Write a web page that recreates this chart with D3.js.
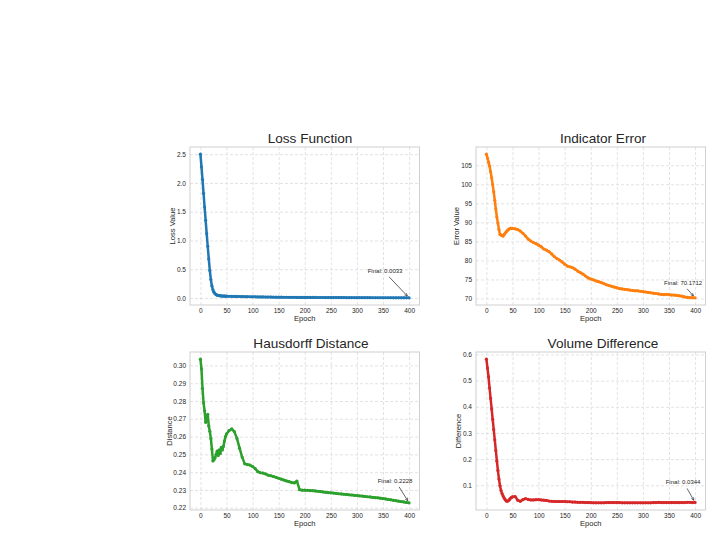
<!DOCTYPE html>
<meta charset="utf-8">
<script src="https://d3js.org/d3.v7.min.js"></script>
<html>
<head>
  <title>Training curves</title>
  <style>
    body { margin: 0; background: #fff; }
    text { font-family: "Liberation Sans", Arial, sans-serif; fill: #262626; }
  </style>
</head>
<body>
<div id="my_dataviz"></div>

<script>
var epochs = [0,2,4,6,8,10,12,14,16,18,20,22,24,26,28,30,32,34,36,38,40,42,44,46,48,50,
  55,60,65,70,75,80,85,90,95,100,105,110,115,120,125,130,135,140,145,150,155,160,165,170,
  175,180,185,190,195,200,205,210,215,220,225,230,235,240,245,250,255,260,265,270,
  275,280,285,290,295,300,305,310,315,320,325,330,335,340,345,350,355,360,365,370,
  375,380,385,390,395,400];

var lossValues = [2.50,2.28,2.06,1.82,1.58,1.35,1.12,0.90,0.68,0.48,0.32,0.21,0.14,0.10,0.075,0.060,0.050,0.045,0.041,0.038,0.036,0.035,0.034,0.033,0.032,0.031,
  0.030,0.029,0.028,0.027,0.026,0.025,0.024,0.023,0.022,0.021,
  0.020,0.019,0.019,0.018,0.017,0.016,0.016,0.015,0.015,0.014,
  0.014,0.013,0.013,0.012,0.012,0.012,0.011,0.011,0.011,0.010,
  0.010,0.0098,0.0095,0.0093,0.0090,0.0088,0.0085,0.0083,0.0080,0.0078,
  0.0076,0.0074,0.0072,0.0070,0.0068,0.0066,0.0064,0.0062,0.0060,0.0058,
  0.0057,0.0055,0.0054,0.0052,0.0051,0.0049,0.0048,0.0047,0.0045,0.0044,
  0.0043,0.0042,0.0041,0.0040,0.0039,0.0038,0.0036,0.0035,0.0034,0.0033];

var errorValues = [107.9,106.9,105.8,104.8,103.3,101.7,99.9,98.0,95.8,93.5,91.4,89.8,88.1,86.8,86.7,86.5,86.4,86.8,87.2,87.5,87.8,88.1,88.3,88.4,88.4,88.4,
  88.3,88.1,87.7,87.1,86.4,85.6,85.1,84.7,84.4,84.0,
  83.6,83.0,82.7,82.3,81.7,81.0,80.5,80.1,79.6,79.0,
  78.5,78.3,78.1,77.7,77.2,76.8,76.4,75.9,75.4,75.1,
  74.9,74.6,74.4,74.2,73.9,73.6,73.4,73.2,73.0,72.8,
  72.6,72.5,72.4,72.3,72.2,72.1,72.0,72.0,71.9,71.8,
  71.7,71.6,71.5,71.4,71.3,71.2,71.1,71.0,71.1,71.0,
  70.9,70.9,70.8,70.7,70.6,70.4,70.3,70.2,70.2,70.1712];

var hausdorffValues = [0.3035,0.2980,0.2870,0.2790,0.2745,0.2680,0.2705,0.2725,0.2660,0.2630,0.2590,0.2530,0.2463,0.2470,0.2481,0.2500,0.2519,0.2494,0.2525,0.2505,0.2540,0.2525,0.2545,0.2575,0.2600,0.2615,
  0.2634,0.2643,0.2628,0.2590,0.2535,0.2485,0.2447,0.2443,0.2440,0.2432,
  0.2420,0.2403,0.2397,0.2395,0.2390,0.2383,0.2380,0.2376,0.2371,0.2366,
  0.2361,0.2356,0.2351,0.2347,0.2342,0.2340,0.2350,0.2302,0.2299,0.2299,
  0.2298,0.2297,0.2296,0.2295,0.2293,0.2291,0.2289,0.2287,0.2285,0.2284,
  0.2283,0.2281,0.2279,0.2278,0.2276,0.2275,0.2273,0.2272,0.2270,0.2269,
  0.2267,0.2266,0.2264,0.2262,0.2261,0.2259,0.2257,0.2256,0.2254,0.2252,
  0.2250,0.2247,0.2245,0.2242,0.2240,0.2237,0.2235,0.2233,0.2230,0.2228];

var volumeValues = [0.582,0.548,0.515,0.472,0.432,0.392,0.352,0.313,0.274,0.233,0.193,0.157,0.124,0.098,0.080,0.068,0.059,0.051,0.045,0.040,0.039,0.041,0.045,0.050,0.054,0.056,
  0.057,0.043,0.039,0.045,0.049,0.046,0.044,0.044,0.045,0.045,
  0.044,0.043,0.042,0.040,0.039,0.038,0.038,0.038,0.038,0.038,
  0.037,0.037,0.036,0.036,0.035,0.035,0.035,0.034,0.034,0.034,
  0.033,0.033,0.033,0.033,0.033,0.034,0.034,0.034,0.034,0.034,
  0.034,0.033,0.033,0.033,0.033,0.033,0.033,0.033,0.033,0.033,
  0.033,0.033,0.033,0.034,0.034,0.035,0.034,0.034,0.034,0.034,
  0.034,0.034,0.034,0.034,0.034,0.034,0.035,0.035,0.034,0.0344];

var xTicks = [0,50,100,150,200,250,300,350,400];
var lossTicks = [0,0.5,1.0,1.5,2.0,2.5];
var errorTicks = [70,75,80,85,90,95,100,105];
var hausdorffTicks = [0.22,0.23,0.24,0.25,0.26,0.27,0.28,0.29,0.30];
var volumeTicks = [0.1,0.2,0.3,0.4,0.5,0.6];

// one entry per subplot
var panels = [
  {title: "Loss Function", ylabel: "Loss Value", values: lossValues, ticks: lossTicks, fmt: ".1f",
   color: "#1f77b4", left: 190, top: 147, titleX: 310, note: [-24, -25]},
  {title: "Indicator Error", ylabel: "Error Value", values: errorValues, ticks: errorTicks, fmt: "d",
   color: "#ff7f0e", left: 476, top: 147, titleX: 603, note: [-12, -13]},
  {title: "Hausdorff Distance", ylabel: "Distance", values: hausdorffValues, ticks: hausdorffTicks, fmt: ".2f",
   color: "#2ca02c", left: 190, top: 352, titleX: 311, note: [-14, -20]},
  {title: "Volume Difference", ylabel: "Difference", values: volumeValues, ticks: volumeTicks, fmt: ".1f",
   color: "#d62728", left: 476, top: 352, titleX: 603, note: [-12, -18]}
];

var W = 229.5, H = 158;

var svg = d3.select("#my_dataviz")
  .append("svg")
    .attr("width", 712)
    .attr("height", 535);

svg.append("defs").append("marker")
    .attr("id", "arrow")
    .attr("viewBox", "0 0 10 10")
    .attr("refX", 9).attr("refY", 5)
    .attr("markerWidth", 5).attr("markerHeight", 5)
    .attr("orient", "auto")
  .append("path")
    .attr("d", "M1,1 L9,5 L1,9")
    .attr("fill", "none")
    .attr("stroke", "#222")
    .attr("stroke-width", 1.5);

panels.forEach(function(p) {
  var g = svg.append("g")
    .attr("transform", "translate(" + p.left + "," + p.top + ")");

  var x = d3.scaleLinear().domain([-20, 420]).range([0, W]);
  var ext = d3.extent(p.values);
  var pad = (ext[1] - ext[0]) * 0.05;
  var y = d3.scaleLinear().domain([ext[0] - pad, ext[1] + pad]).range([H, 0]);

  // grid
  g.append("g")
    .attr("transform", "translate(0," + H + ")")
    .call(d3.axisBottom(x).tickValues(xTicks).tickSize(-H).tickFormat(""))
    .call(function(s) { s.select(".domain").remove(); })
    .selectAll("line")
      .attr("stroke", "#dcdcdc").attr("stroke-dasharray", "3,2").attr("stroke-width", 0.8);
  g.append("g")
    .call(d3.axisLeft(y).tickValues(p.ticks).tickSize(-W).tickFormat(""))
    .call(function(s) { s.select(".domain").remove(); })
    .selectAll("line")
      .attr("stroke", "#dcdcdc").attr("stroke-dasharray", "3,2").attr("stroke-width", 0.8);

  // frame
  g.append("rect")
    .attr("width", W).attr("height", H)
    .attr("fill", "none").attr("stroke", "#d0d0d0").attr("stroke-width", 1);

  // tick labels
  var xa = g.append("g")
    .attr("transform", "translate(0," + H + ")")
    .call(d3.axisBottom(x).tickValues(xTicks).tickSize(0).tickPadding(3).tickFormat(d3.format("d")));
  xa.select(".domain").remove();
  xa.selectAll("text").style("font-size", "6.5px").attr("fill", "#3a3a3a");

  var ya = g.append("g")
    .call(d3.axisLeft(y).tickValues(p.ticks).tickSize(0).tickPadding(4).tickFormat(d3.format(p.fmt)));
  ya.select(".domain").remove();
  ya.selectAll("text").style("font-size", "6.5px").attr("fill", "#3a3a3a");

  var maxW = 0;
  ya.selectAll("text").each(function() { maxW = Math.max(maxW, this.getComputedTextLength()); });

  // axis labels
  g.append("text")
    .attr("x", W / 2).attr("y", H + 15.5)
    .attr("text-anchor", "middle")
    .style("font-size", "7.6px")
    .text("Epoch");
  g.append("text")
    .attr("transform", "translate(" + (-4 - maxW - 4.5) + "," + (H / 2) + ")rotate(-90)")
    .attr("dy", "0.35em")
    .attr("text-anchor", "middle")
    .style("font-size", "7.6px")
    .text(p.ylabel);

  // title
  svg.append("text")
    .attr("x", p.titleX).attr("y", p.top - 4)
    .attr("text-anchor", "middle")
    .style("font-size", "13.6px")
    .text(p.title);

  // line + markers
  var pts = epochs.map(function(e, i) { return [e, p.values[i]]; });
  g.append("path")
    .datum(pts)
    .attr("fill", "none")
    .attr("stroke", p.color)
    .attr("stroke-width", 2.5)
    .attr("stroke-linejoin", "round")
    .attr("d", d3.line().x(function(d) { return x(d[0]); }).y(function(d) { return y(d[1]); }));
  g.selectAll(".dot")
    .data(pts)
    .enter()
    .append("circle")
      .attr("cx", function(d) { return x(d[0]); })
      .attr("cy", function(d) { return y(d[1]); })
      .attr("r", 1.6)
      .attr("fill", p.color);

  // final value annotation
  var last = pts[pts.length - 1];
  var px = x(last[0]), py = y(last[1]);
  var tx = px + p.note[0], ty = py + p.note[1];
  g.append("text")
    .attr("x", tx).attr("y", ty)
    .attr("text-anchor", "middle")
    .style("font-size", "6px")
    .text("Final: " + last[1].toFixed(4));
  var sx = tx + 4, sy = ty + 4;
  var dx = px - sx, dy = py - sy, len = Math.sqrt(dx * dx + dy * dy);
  g.append("line")
    .attr("x1", sx).attr("y1", sy)
    .attr("x2", px - dx / len * 2.5).attr("y2", py - dy / len * 2.5)
    .attr("stroke", "#222")
    .attr("stroke-width", 0.7)
    .attr("marker-end", "url(#arrow)");
});
</script>
</body>
</html>
